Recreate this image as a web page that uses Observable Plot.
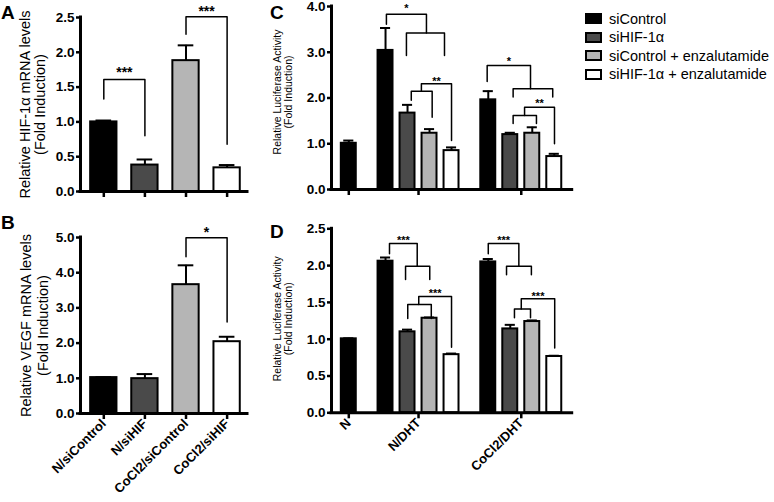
<!DOCTYPE html>
<html><head><meta charset="utf-8">
<script src="https://cdn.jsdelivr.net/npm/d3@7"></script>
<script src="https://cdn.jsdelivr.net/npm/@observablehq/plot@0.6"></script>
<style>
body{margin:0;background:#fff;}
#fig{position:relative;width:774px;height:502px;overflow:hidden;font-family:"Liberation Sans",Arial,sans-serif;color:#000;}
.panel{position:absolute;}
.letter{position:absolute;font-weight:bold;font-size:19px;line-height:1;}
.leg{position:absolute;left:585px;height:19px;display:flex;align-items:center;font-size:14.5px;white-space:nowrap;}
.leg span.sw{display:inline-block;width:17px;height:11px;box-sizing:border-box;border:2px solid #000;margin-right:7px;}
</style></head>
<body><div id="fig"></div>
<script>
// ---------- data ----------
const catsAB = ["N/siControl", "N/siHIF", "CoCl2/siControl", "CoCl2/siHIF"];
const hifMeans = [1.00, 0.38, 1.88, 0.34];
const hifErrTop = [1.02, 0.46, 2.10, 0.38];
const vegfMeans = [1.02, 0.99, 3.66, 2.04];
const vegfErrTop = [1.03, 1.12, 4.21, 2.18];

const seriesNames = ["siControl", "siHIF-1\u03b1", "siControl + enzalutamide", "siHIF-1\u03b1 + enzalutamide"];
const seriesFills = ["#000000", "#4a4a4a", "#b5b5b5", "#ffffff"];

const groupsCD = ["N", "N/DHT", "CoCl2/DHT"];
const lucC_N = [1.01];
const lucC_NDHT = [3.04, 1.67, 1.23, 0.85];
const lucC_CoDHT = [1.96, 1.20, 1.23, 0.72];
const errC_N = [1.07];
const errC_NDHT = [3.53, 1.85, 1.32, 0.92];
const errC_CoDHT = [2.15, 1.24, 1.36, 0.78];
const lucD_N = [1.005];
const lucD_NDHT = [2.06, 1.10, 1.285, 0.79];
const lucD_CoDHT = [2.05, 1.14, 1.24, 0.765];
const errD_N = [1.012];
const errD_NDHT = [2.11, 1.13, 1.295, 0.805];
const errD_CoDHT = [2.09, 1.195, 1.255, 0.775];

// significance brackets (x in bar units, y in data units)
const bracketsA = [
  {x1: 0, y1: 1.33, x2: 1, y2: 0.80, top: 1.61, label: "***", labelY: 1.76},
  {x1: 2, y1: 2.26, x2: 3, y2: 0.68, top: 2.51, label: "***", labelY: 2.64}
];
const bracketsB = [
  {x1: 2, y1: 4.45, x2: 3, y2: 2.60, top: 4.99, label: "*", labelY: 5.26}
];
const bracketsC = [
  {x1: 1.71, y1: 3.61, x2: 3.53, y2: 3.42, top: 3.83, label: "*", labelY: 4.02},
  {x1: 2.62, y1: 2.93, x2: 4.35, y2: 2.93, top: 3.42},
  {x1: 3.30, y1: 2.15, x2: 4.67, y2: 1.07, top: 2.31, label: "**", labelY: 2.43},
  {x1: 2.84, y1: 1.95, x2: 3.79, y2: 1.58, top: 2.15},
  {x1: 6.29, y1: 2.36, x2: 8.26, y2: 2.20, top: 2.71, label: "*", labelY: 2.86},
  {x1: 7.47, y1: 2.02, x2: 9.27, y2: 2.02, top: 2.20},
  {x1: 7.99, y1: 1.62, x2: 9.35, y2: 1.00, top: 1.80, label: "**", labelY: 1.95},
  {x1: 7.47, y1: 1.44, x2: 8.53, y2: 1.44, top: 1.62}
];
const bracketsD = [
  {x1: 1.85, y1: 2.16, x2: 3.11, y2: 1.99, top: 2.30, label: "***", labelY: 2.38},
  {x1: 2.58, y1: 1.81, x2: 3.68, y2: 1.81, top: 1.99},
  {x1: 3.18, y1: 1.47, x2: 4.67, y2: 0.89, top: 1.58, label: "***", labelY: 1.66},
  {x1: 2.68, y1: 1.28, x2: 3.75, y2: 1.28, top: 1.47},
  {x1: 6.34, y1: 2.16, x2: 7.73, y2: 1.99, top: 2.30, label: "***", labelY: 2.38},
  {x1: 7.17, y1: 1.875, x2: 8.30, y2: 1.875, top: 1.99},
  {x1: 7.84, y1: 1.41, x2: 9.36, y2: 0.88, top: 1.55, label: "***", labelY: 1.62},
  {x1: 7.53, y1: 1.29, x2: 8.26, y2: 1.29, top: 1.41}
];

// ---------- layout helpers ----------
function rowsAB(means, errs) {
  return means.map((v, i) => ({u: i, series: i, value: v, err: errs[i]}));
}
const GROUP_GAP = 1.67;
function rowsCD(valueArrays, errArrays) {
  const rows = [], centers = [];
  let start = 0;
  valueArrays.forEach((vals, gi) => {
    vals.forEach((v, i) => rows.push({u: start + i, series: i, value: v, err: errArrays[gi][i]}));
    centers.push(start + (vals.length - 1) / 2);
    start += vals.length - 1 + GROUP_GAP;
  });
  return {rows, centers};
}
function bracketPts(brs) {
  const pts = [];
  brs.forEach((b, id) => {
    pts.push({id, x: b.x1, y: b.y1}, {id, x: b.x1, y: b.top}, {id, x: b.x2, y: b.top}, {id, x: b.x2, y: b.y2});
  });
  return pts;
}

function makePanel(c) {
  const labelMap = new Map(c.tickPositions.map((p, i) => [p, c.tickLabels ? c.tickLabels[i] : ""]));
  const marks = [
    Plot.rectY(c.rows, {x1: d => d.u - c.half, x2: d => d.u + c.half, y1: 0, y2: "value", fill: "series", stroke: "#000", strokeWidth: 2}),
    Plot.ruleX(c.rows, {x: "u", y1: "value", y2: "err", stroke: "#000", strokeWidth: 2}),
    Plot.ruleY(c.rows, {y: "err", x1: d => d.u - c.cap, x2: d => d.u + c.cap, stroke: "#000", strokeWidth: 2}),
    Plot.line(bracketPts(c.brackets), {x: "x", y: "y", z: "id", stroke: "#000", strokeWidth: 1.5}),
    Plot.text(c.brackets.filter(b => b.label), {x: b => (b.x1 + b.x2) / 2, y: "labelY", text: "label", fontSize: c.starSize, dy: c.starSize * 0.27, lineAnchor: "middle", fontWeight: "bold"}),
    Plot.ruleX([c.xDomain[0]], {x: d => d, y1: c.yDomain[0], y2: c.yDomain[1], stroke: "#000", strokeWidth: 3, strokeLinecap: "square"}),
    Plot.ruleY([0], {y: d => d, x1: c.xDomain[0], x2: c.xDomain[1], stroke: "#000", strokeWidth: 3, strokeLinecap: "square"}),
    Plot.axisY({ticks: c.yTicks, tickFormat: ".1f", tickSize: 4, tickPadding: 2, strokeWidth: 2.5, label: null, fontSize: 13.5}),
    Plot.axisX({ticks: c.tickPositions, tickFormat: d => labelMap.get(d) ?? "", tickSize: 6, tickPadding: 2, strokeWidth: 2.5, tickRotate: c.tickLabels ? -45 : 0, label: null, fontSize: 13}),
    Plot.text([c.ylab1], {text: d => d, frameAnchor: "left", textAnchor: "middle", lineAnchor: "middle", rotate: -90, dx: c.ylabDx[0], dy: c.ylabDy, fontSize: c.ylabSize[0], fontWeight: "normal"}),
    Plot.text([c.ylab2], {text: d => d, frameAnchor: "left", textAnchor: "middle", lineAnchor: "middle", rotate: -90, dx: c.ylabDx[1], dy: c.ylabDy, fontSize: c.ylabSize[1], fontWeight: "normal", ariaLabel: "ylab2"})
  ];
  const svg = Plot.plot({
    width: c.width, height: c.height,
    marginLeft: c.m[0], marginRight: c.m[1], marginTop: c.m[2], marginBottom: c.m[3],
    x: {type: "linear", domain: c.xDomain, axis: null},
    y: {domain: c.yDomain, axis: null},
    color: {type: "ordinal", domain: [0, 1, 2, 3], range: seriesFills},
    style: {background: "transparent", overflow: "visible", fontFamily: "'Liberation Sans', Arial, sans-serif", fontSize: "13px", fontWeight: "bold", color: "#000"},
    marks
  });
  if (c.ls2) d3.select(svg).selectAll('g[aria-label="ylab2"] text').style("letter-spacing", c.ls2);
  const div = document.createElement("div");
  div.className = "panel";
  div.style.left = c.left + "px";
  div.style.top = c.top + "px";
  div.style.width = c.width + "px";
  div.appendChild(svg);
  return div;
}

const fig = document.getElementById("fig");

// Panel A
fig.appendChild(makePanel({
  rows: rowsAB(hifMeans, hifErrTop), brackets: bracketsA,
  half: 0.32, cap: 0.19, starSize: 14,
  xDomain: [-0.567, 3.496], yDomain: [0, 2.5], yTicks: [0, 0.5, 1, 1.5, 2, 2.5],
  tickPositions: [0, 1, 2, 3], tickLabels: null,
  left: 0, top: 0, width: 260, height: 205, m: [80, 13, 17, 14],
  ylab1: "Relative HIF-1\u03b1 mRNA levels", ylab2: "(Fold Induction)",
  ylabDx: [-55, -40], ylabDy: 0, ylabSize: [14.5, 14.5], ls2: "0.5px"
}));

// Panel B
fig.appendChild(makePanel({
  rows: rowsAB(vegfMeans, vegfErrTop), brackets: bracketsB,
  half: 0.32, cap: 0.19, starSize: 14,
  xDomain: [-0.567, 3.496], yDomain: [0, 5], yTicks: [0, 1, 2, 3, 4, 5],
  tickPositions: [0, 1, 2, 3], tickLabels: catsAB,
  left: 0, top: 200, width: 260, height: 302, m: [80, 13, 37, 89],
  ylab1: "Relative VEGF mRNA levels", ylab2: "(Fold Induction)",
  ylabDx: [-54, -37], ylabDy: 0, ylabSize: [14.5, 14.5], ls2: "0.5px"
}));

// Panel C
const layC = rowsCD([lucC_N, lucC_NDHT, lucC_CoDHT], [errC_N, errC_NDHT, errC_CoDHT]);
fig.appendChild(makePanel({
  rows: layC.rows, brackets: bracketsC,
  half: 0.34, cap: 0.23, starSize: 11,
  xDomain: [-0.786, 10.155], yDomain: [0, 4], yTicks: [0, 1, 2, 3, 4],
  tickPositions: layC.centers, tickLabels: null,
  left: 270, top: 0, width: 310, height: 205, m: [61, 8.3, 6, 16],
  ylab1: "Relative Luciferase Activity", ylab2: "(Fold Induction)",
  ylabDx: [-54, -43], ylabDy: -6, ylabSize: [10.5, 10.5], ls2: "1.6px"
}));

// Panel D
const layD = rowsCD([lucD_N, lucD_NDHT, lucD_CoDHT], [errD_N, errD_NDHT, errD_CoDHT]);
fig.appendChild(makePanel({
  rows: layD.rows, brackets: bracketsD,
  half: 0.34, cap: 0.23, starSize: 11,
  xDomain: [-0.786, 10.155], yDomain: [0, 2.5], yTicks: [0, 0.5, 1, 1.5, 2, 2.5],
  tickPositions: layD.centers, tickLabels: groupsCD,
  left: 270, top: 200, width: 310, height: 302, m: [61, 8.3, 28.3, 89.7],
  ylab1: "Relative Luciferase Activity", ylab2: "(Fold Induction)",
  ylabDx: [-54, -43], ylabDy: -2, ylabSize: [10.5, 10.5], ls2: "1.6px"
}));

// panel letters
[["A", 1, 2.5], ["B", 1, 213], ["C", 270, 2.5], ["D", 270, 221.5]].forEach(([t, x, y]) => {
  const d = document.createElement("div");
  d.className = "letter"; d.textContent = t;
  d.style.left = x + "px"; d.style.top = y + "px";
  fig.appendChild(d);
});

// legend
seriesNames.forEach((name, i) => {
  const row = document.createElement("div");
  row.className = "leg";
  row.style.top = (9 + i * 18.6) + "px";
  const sw = document.createElement("span");
  sw.className = "sw"; sw.style.background = seriesFills[i];
  const tx = document.createElement("span");
  tx.textContent = name;
  row.appendChild(sw); row.appendChild(tx);
  fig.appendChild(row);
});
</script>
</body></html>
